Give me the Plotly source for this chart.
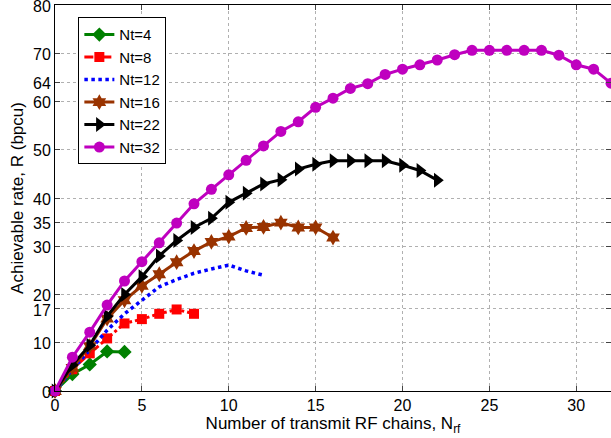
import plotly.graph_objects as go

nrf32 = list(range(0, 33))
r32 = [0, 7.0, 12.2, 17.8, 22.8, 26.8, 30.7, 34.8, 38.8, 41.8, 44.8, 47.8, 50.8,
       53.8, 55.8, 58.8, 60.7, 62.7, 63.7, 65.6, 66.7, 67.6, 68.6, 69.7, 70.6,
       70.6, 70.6, 70.6, 70.6, 69.6, 67.6, 66.7, 63.8]
nrf22 = list(range(0, 23))
r22 = [0, 5.4, 9.5, 15.5, 20.0, 23.7, 28.0, 31.2, 33.9, 35.8, 39.1, 41.0, 42.9,
       43.8, 46.0, 47.0, 47.7, 47.7, 47.7, 47.7, 46.8, 45.7, 43.7]
nrf16 = list(range(0, 17))
r16 = [0, 4.8, 9.3, 15.0, 18.8, 21.8, 24.2, 26.7, 29.0, 30.9, 32.0, 33.8, 34.0,
       34.9, 33.9, 33.9, 31.8]
nrf12 = list(range(0, 13))
r12 = [0, 4.5, 8.5, 12.6, 16.0, 18.9, 21.6, 23.1, 24.4, 25.3, 26.1, 24.9, 24.0]
nrf8 = list(range(0, 9))
r8 = [0, 4.5, 7.8, 10.9, 14.0, 14.9, 16.0, 16.9, 16.0]
nrf4 = list(range(0, 5))
r4 = [0, 3.5, 5.5, 8.2, 8.1]

yticks = [0, 10, 17, 20, 30, 35, 40, 50, 60, 64, 70, 80]
xticks = [0, 5, 10, 15, 20, 25, 30]

series = [
    ("Nt=4", nrf4, r4, "#008000", "solid", "diamond", 11),
    ("Nt=8", nrf8, r8, "#ff0000", "dashdot", "square", 10),
    ("Nt=12", nrf12, r12, "#0000ff", "dot", None, 0),
    ("Nt=16", nrf16, r16, "#993300", "solid", "hexagram", 12),
    ("Nt=22", nrf22, r22, "#000000", "solid", "triangle-right", 13),
    ("Nt=32", nrf32, r32, "#bf00bf", "solid", "circle", 11),
]

fig = go.Figure()
for name, xs, ys, col, dash, sym, ms in series:
    if sym is None:
        fig.add_trace(go.Scatter(x=xs, y=ys, name=name, mode="lines",
                                 line=dict(color=col, width=3.5, dash=dash),
                                 cliponaxis=False))
    else:
        fig.add_trace(go.Scatter(x=xs, y=ys, name=name, mode="lines+markers",
                                 line=dict(color=col, width=3, dash=dash),
                                 marker=dict(symbol=sym, size=ms, color=col,
                                             line=dict(width=0)),
                                 cliponaxis=False))

font = "Liberation Sans, Arial, Helvetica, sans-serif"
fig.update_layout(
    width=611, height=438,
    margin=dict(l=55, r=0, t=5, b=47, autoexpand=False),
    paper_bgcolor="white", plot_bgcolor="white",
    font=dict(family=font, size=17, color="black"),
    showlegend=True,
    legend=dict(x=0.042, y=0.968, xanchor="left", yanchor="top",
                bgcolor="white", bordercolor="black", borderwidth=1,
                font=dict(size=15), tracegroupgap=0, itemwidth=30),
    xaxis=dict(range=[0, 32], tickvals=xticks, ticks="inside", ticklen=5,
               showline=True, linecolor="black", linewidth=1, mirror="ticks",
               showgrid=True, gridcolor="#b0b0b0", griddash="dot", gridwidth=1,
               zeroline=False, automargin=False, ticklabeloverflow="allow",
               tickfont=dict(size=16),
               title=dict(text="Number of transmit RF chains, N<sub>rf</sub>",
                          standoff=3, font=dict(size=17))),
    yaxis=dict(range=[0, 80.001], tickvals=yticks, ticks="inside", ticklen=5,
               showline=True, linecolor="black", linewidth=1, mirror="ticks",
               showgrid=True, gridcolor="#b0b0b0", griddash="dot", gridwidth=1,
               zeroline=False, automargin=False, ticklabeloverflow="allow",
               ticklabelshift=1, tickfont=dict(size=16),
               title=dict(text="Achievable rate, R (bpcu)", standoff=5,
                          font=dict(size=17))),
)

fig.write_html("out.html",
               config={"displayModeBar": False},
               post_script="document.body.style.margin='0px';")
